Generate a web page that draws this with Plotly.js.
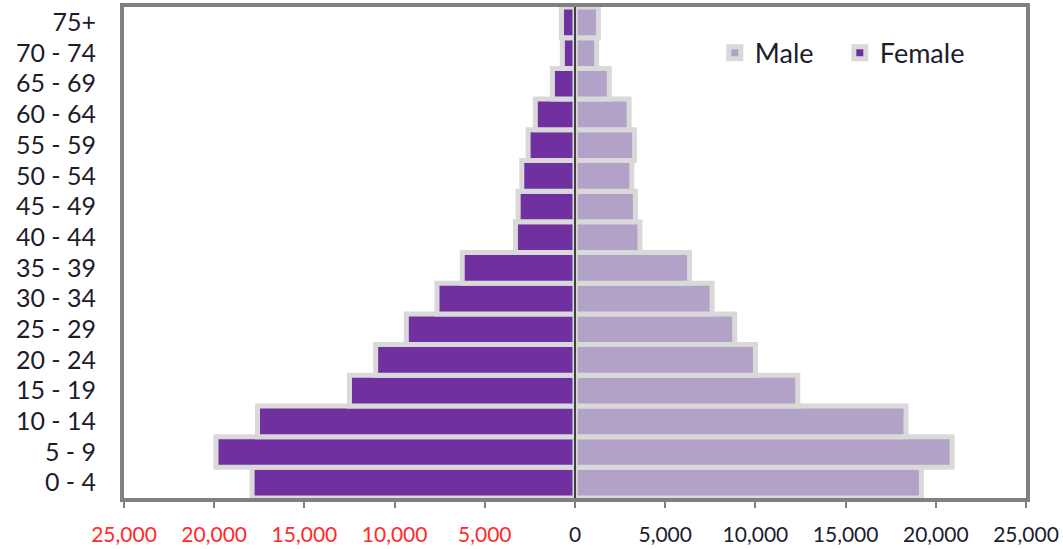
<!DOCTYPE html>
<html>
<head>
<meta charset="utf-8">
<script src="https://cdn.plot.ly/plotly-3.0.1.min.js"></script>
<style>html,body{margin:0;padding:0;background:#fff;}#chart{width:1063px;height:549px;}</style>
</head>
<body>
<div id="chart"></div>
<script>
var ageGroups = ["0 - 4","5 - 9","10 - 14","15 - 19","20 - 24","25 - 29","30 - 34","35 - 39","40 - 44","45 - 49","50 - 54","55 - 59","60 - 64","65 - 69","70 - 74","75+"];
var male   = [19200, 20900, 18350, 12350, 10000, 8850, 7600, 6350, 3600, 3350, 3150, 3300, 3000, 1900, 1200, 1300];
var female = [17900, 19900, 17600, 12500, 11050, 9350, 7650, 6250, 3300, 3150, 2950, 2600, 2200, 1250, 700, 750];
var tickValues = [-25000,-20000,-15000,-10000,-5000,0,5000,10000,15000,20000,25000];
var tickLabels = ["25,000","20,000","15,000","10,000","5,000","0","5,000","10,000","15,000","20,000","25,000"];

var femaleNeg = female.map(function(v){return -v;});
var tickText = tickValues.map(function(v,i){
  return v < 0 ? '<span style="color:#ff2a2a">'+tickLabels[i]+'</span>' : tickLabels[i];
});

var outline = {color:'#d9d9d9', width:5};
var traces = [
  {type:'bar', orientation:'h', name:'Male', y:ageGroups, x:male,
   marker:{color:'#b3a2c7', line:outline}},
  {type:'bar', orientation:'h', name:'Female', y:ageGroups, x:femaleNeg,
   marker:{color:'#7030a0', line:outline}}
];

var fontFam = 'Lato, "Open Sans", sans-serif';
var layout = {
  width:1063, height:549,
  margin:{l:124, r:37, t:7, b:51},
  paper_bgcolor:'#fff', plot_bgcolor:'#fff',
  barmode:'relative', bargap:0,
  font:{family:fontFam, color:'#1c1c2c'},
  showlegend:true,
  legend:{orientation:'h', x:0.655, xanchor:'left', y:0.906, yanchor:'middle',
          font:{size:27, family:fontFam, color:'#1c1c2c'}, bgcolor:'rgba(0,0,0,0)',
          traceorder:'normal', entrywidth:80, entrywidthmode:'pixels'},
  xaxis:{range:[-25000,25000], tickvals:tickValues, ticktext:tickText,
         showgrid:false, zeroline:false, showline:true, mirror:true,
         linecolor:'#808080', linewidth:4, ticks:'outside', ticklen:6,
         tickwidth:2, tickcolor:'#808080', ticklabelstandoff:9,
         tickfont:{size:21, family:fontFam, color:'#1c1c2c'}, layer:'below traces',
         fixedrange:true},
  yaxis:{type:'category', categoryorder:'array', categoryarray:ageGroups,
         range:[-0.5,15.5], showgrid:false, zeroline:false, showline:true, mirror:true,
         linecolor:'#808080', linewidth:4, ticks:'outside', ticklen:19,
         tickcolor:'rgba(0,0,0,0)', tickfont:{size:25, family:fontFam, color:'#1c1c2c'},
         layer:'below traces', fixedrange:true},
  shapes:[{type:'line', xref:'x', yref:'paper', x0:0, x1:0, y0:0, y1:1,
           line:{color:'#404040', width:2}, layer:'above'}]
};
Plotly.newPlot('chart', traces, layout, {displayModeBar:false, staticPlot:true});
</script>
</body>
</html>
